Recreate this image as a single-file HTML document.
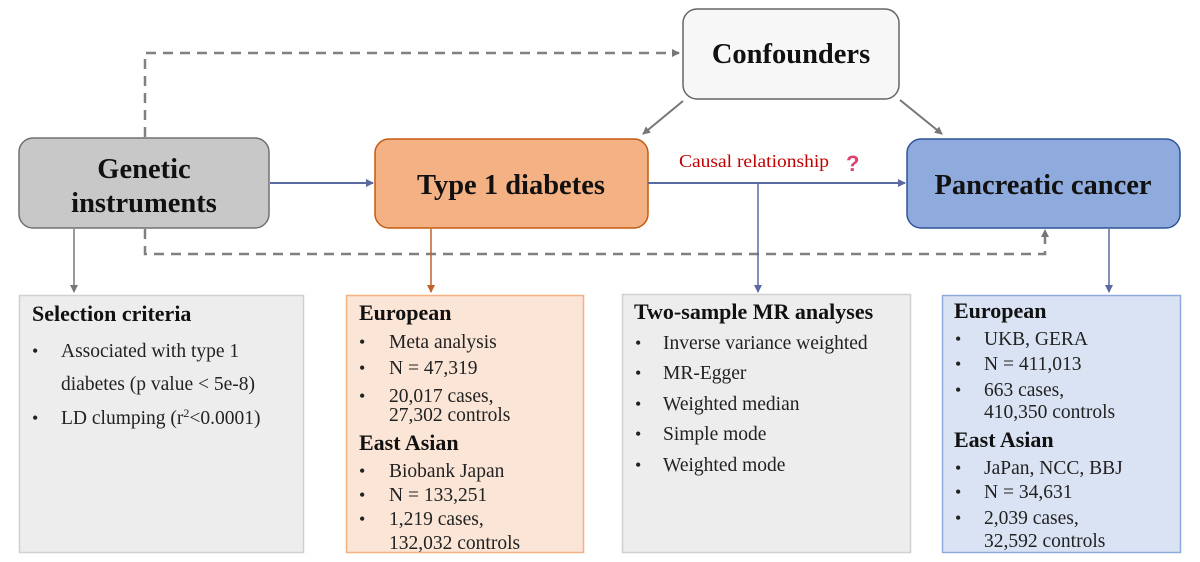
<!DOCTYPE html>
<html><head><meta charset="utf-8"><style>
html,body{margin:0;padding:0;background:#fff;}
svg{display:block;font-family:"Liberation Serif",serif;}
.h{font-weight:bold;font-size:22px;fill:#111;}
.t{font-size:19.5px;fill:#222;}
.b{font-size:18px;fill:#222;}
.big{font-weight:bold;font-size:28.5px;fill:#111;}
</style></head><body>
<svg width="1200" height="562" viewBox="0 0 1200 562">
<defs>
<marker id="ag" markerWidth="8" markerHeight="8" refX="7" refY="4" orient="auto" markerUnits="userSpaceOnUse"><path d="M0,0 L8,4 L0,8 z" fill="#777"/></marker>
<marker id="ab" markerWidth="8" markerHeight="8" refX="7" refY="4" orient="auto" markerUnits="userSpaceOnUse"><path d="M0,0 L8,4 L0,8 z" fill="#5a6aa0"/></marker>
<marker id="ao" markerWidth="8" markerHeight="8" refX="7" refY="4" orient="auto" markerUnits="userSpaceOnUse"><path d="M0,0 L8,4 L0,8 z" fill="#c0622a"/></marker>
</defs>
<polyline points="145,137 145,53 679,53" fill="none" stroke="#808080" stroke-width="2.5" stroke-dasharray="10,7" marker-end="url(#ag)"/>
<polyline points="145,229 145,254 1045,254 1045,230" fill="none" stroke="#808080" stroke-width="2.5" stroke-dasharray="10,7" marker-end="url(#ag)"/>
<rect x="19" y="138" width="250" height="90" rx="14" fill="#c8c8c8" stroke="#707070" stroke-width="1.5"/>
<text class="big" x="144" y="178" text-anchor="middle">Genetic</text>
<text class="big" x="144" y="212" text-anchor="middle">instruments</text>
<rect x="375" y="139" width="273" height="89" rx="14" fill="#f4b183" stroke="#c55a11" stroke-width="1.5"/>
<text class="big" x="511" y="194" text-anchor="middle">Type 1 diabetes</text>
<rect x="683" y="9" width="216" height="90" rx="14" fill="#f7f7f7" stroke="#666" stroke-width="1.5"/>
<text class="big" x="791" y="63" text-anchor="middle">Confounders</text>
<rect x="907" y="139" width="273" height="89" rx="14" fill="#8faadc" stroke="#2f5597" stroke-width="1.5"/>
<text class="big" x="1043" y="194" text-anchor="middle">Pancreatic cancer</text>
<line x1="270" y1="183" x2="373" y2="183" stroke="#5a6aa0" stroke-width="2" marker-end="url(#ab)"/>
<line x1="648" y1="183" x2="905" y2="183" stroke="#5a6aa0" stroke-width="2" marker-end="url(#ab)"/>
<text x="679" y="167" font-size="18" fill="#c00000" textLength="150" lengthAdjust="spacingAndGlyphs">Causal relationship</text>
<text x="846" y="171" font-size="22" font-weight="bold" fill="#e04070" font-family="Liberation Sans,sans-serif">?</text>
<line x1="683" y1="101" x2="643" y2="134" stroke="#777" stroke-width="2" marker-end="url(#ag)"/>
<line x1="900" y1="100" x2="942" y2="134" stroke="#777" stroke-width="2" marker-end="url(#ag)"/>
<line x1="74" y1="229" x2="74" y2="292" stroke="#777" stroke-width="1.5" marker-end="url(#ag)"/>
<line x1="431" y1="229" x2="431" y2="292" stroke="#c0622a" stroke-width="1.5" marker-end="url(#ao)"/>
<line x1="758" y1="184" x2="758" y2="292" stroke="#5a6aa0" stroke-width="1.5" marker-end="url(#ab)"/>
<line x1="1109" y1="229" x2="1109" y2="292" stroke="#5a6aa0" stroke-width="1.5" marker-end="url(#ab)"/>

<rect x="19.5" y="295.5" width="284" height="257" fill="#ededed" stroke="#d0d0d0" stroke-width="1.5"/>
<text class="h" x="32" y="321">Selection criteria</text>
<text class="b" x="32" y="357">•</text><text class="t" x="61" y="357">Associated with type 1</text>
<text class="t" x="61" y="390">diabetes (p value &lt; 5e-8)</text>
<text class="b" x="32" y="424">•</text><text class="t" x="61" y="424">LD clumping (r<tspan font-size="12" dy="-7">2</tspan><tspan dy="7">&lt;0.0001)</tspan></text>

<rect x="346.5" y="295.5" width="237" height="257" fill="#fbe5d6" stroke="#f4b183" stroke-width="1.5"/>
<text class="h" x="359" y="320">European</text>
<text class="b" x="359" y="348">•</text><text class="t" x="389" y="348">Meta analysis</text>
<text class="b" x="359" y="374">•</text><text class="t" x="389" y="374">N = 47,319</text>
<text class="b" x="359" y="402">•</text><text class="t" x="389" y="402">20,017 cases,</text>
<text class="t" x="389" y="421">27,302 controls</text>
<text class="h" x="359" y="450">East Asian</text>
<text class="b" x="359" y="477">•</text><text class="t" x="389" y="477">Biobank Japan</text>
<text class="b" x="359" y="501">•</text><text class="t" x="389" y="501">N = 133,251</text>
<text class="b" x="359" y="525">•</text><text class="t" x="389" y="525">1,219 cases,</text>
<text class="t" x="389" y="549">132,032 controls</text>

<rect x="622.5" y="294.5" width="288" height="258" fill="#ededed" stroke="#d0d0d0" stroke-width="1.5"/>
<text class="h" x="634" y="319">Two-sample MR analyses</text>
<text class="b" x="635" y="349">•</text><text class="t" x="663" y="349">Inverse variance weighted</text>
<text class="b" x="635" y="379">•</text><text class="t" x="663" y="379">MR-Egger</text>
<text class="b" x="635" y="410">•</text><text class="t" x="663" y="410">Weighted median</text>
<text class="b" x="635" y="440">•</text><text class="t" x="663" y="440">Simple mode</text>
<text class="b" x="635" y="471">•</text><text class="t" x="663" y="471">Weighted mode</text>

<rect x="942.5" y="295.5" width="238" height="257" fill="#dae3f3" stroke="#8faadc" stroke-width="1.5"/>
<text class="h" x="954" y="318">European</text>
<text class="b" x="955" y="345">•</text><text class="t" x="984" y="345">UKB, GERA</text>
<text class="b" x="955" y="370">•</text><text class="t" x="984" y="370">N = 411,013</text>
<text class="b" x="955" y="396">•</text><text class="t" x="984" y="396">663 cases,</text>
<text class="t" x="984" y="418">410,350 controls</text>
<text class="h" x="954" y="447">East Asian</text>
<text class="b" x="955" y="474">•</text><text class="t" x="984" y="474">JaPan, NCC, BBJ</text>
<text class="b" x="955" y="498">•</text><text class="t" x="984" y="498">N = 34,631</text>
<text class="b" x="955" y="524">•</text><text class="t" x="984" y="524">2,039 cases,</text>
<text class="t" x="984" y="547">32,592 controls</text>
</svg>
</body></html>
